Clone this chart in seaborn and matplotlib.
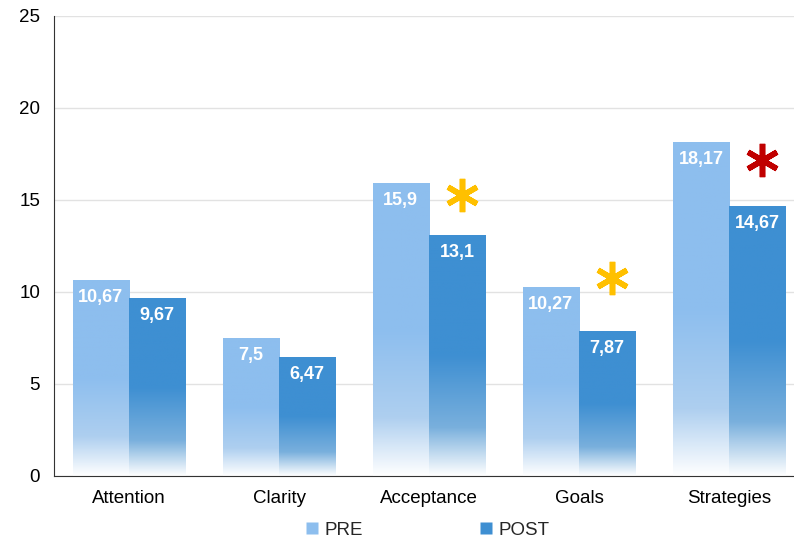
import numpy as np
import pandas as pd
import matplotlib
matplotlib.use("Agg")
import matplotlib.pyplot as plt
from matplotlib.colors import LinearSegmentedColormap
from matplotlib.lines import Line2D
import seaborn as sns

# data
categories = ["Attention", "Clarity", "Acceptance", "Goals", "Strategies"]
pre_values = [10.67, 7.5, 15.9, 10.27, 18.17]
post_values = [9.67, 6.47, 13.1, 7.87, 14.67]
pre_labels = ["10,67", "7,5", "15,9", "10,27", "18,17"]
post_labels = ["9,67", "6,47", "13,1", "7,87", "14,67"]
star_categories = ["Acceptance", "Goals", "Strategies"]
star_heights = [15.25, 10.75, 17.2]
star_colors = ["#FFC000", "#FFC000", "#C00000"]

pre_color = "#8DBEEE"
post_color = "#3E8FD2"

df = pd.DataFrame({
    "category": categories * 2,
    "value": pre_values + post_values,
    "group": ["PRE"] * len(categories) + ["POST"] * len(categories),
})

sns.set_style("white")
plt.rcParams['font.family'] = ['Liberation Sans', 'DejaVu Sans']

fig = plt.figure(figsize=(7.94, 5.41), dpi=100)
ax = fig.add_axes([54 / 794, 65 / 541, 750 / 794, 460 / 541])

sns.barplot(data=df, x="category", y="value", hue="group",
            palette={"PRE": pre_color, "POST": post_color},
            width=0.75, gap=0, ax=ax, legend=False, saturation=1)

# replace flat fills with a vertical fade to white at the base
for container, col in zip(ax.containers, [pre_color, post_color]):
    cmap = LinearSegmentedColormap.from_list(
        "fade", [(0.0, "#FFFFFF"), (0.2, sns.light_palette(col, 4)[2]),
                 (0.5, col), (1.0, col)])
    for bar in container:
        x0, y0 = bar.get_x(), bar.get_y()
        w, h = bar.get_width(), bar.get_height()
        grad = np.linspace(0, 1, 256).reshape(-1, 1)
        im = ax.imshow(grad, cmap=cmap, origin="lower", aspect="auto",
                       extent=[x0, x0 + w, y0, y0 + h], zorder=2)
        im.set_clip_path(bar)
        bar.set_facecolor("none")
        bar.set_edgecolor("none")

# value labels
for container, labels in zip(ax.containers, [pre_labels, post_labels]):
    for bar, lab in zip(container, labels):
        ax.text(bar.get_x() + bar.get_width() / 2, bar.get_height() - 0.95, lab,
                ha="center", va="center", color="white", fontsize=13,
                fontweight="bold", zorder=4)

# significance asterisks above POST bars
post_bars = ax.containers[1]
for cat, yv, c in zip(star_categories, star_heights, star_colors):
    i = categories.index(cat)
    bar = post_bars[i]
    ax.plot(bar.get_x() + bar.get_width() / 2 + 0.03, yv, marker=(6, 2, 0),
            markersize=24, markeredgewidth=4.0, color=c, zorder=4,
            clip_on=False)

ax.set_ylim(0, 25)
ax.set_xlim(-0.5, 4.5)
ax.set_yticks([0, 5, 10, 15, 20, 25])
ax.yaxis.grid(True, color="#E2E2E2", linewidth=1)
ax.set_axisbelow(True)
ax.set_xlabel("")
ax.set_ylabel("")
ax.tick_params(axis="both", length=0, labelsize=13.5, colors="black")
ax.tick_params(axis="y", pad=10)
ax.tick_params(axis="x", pad=10)
for s in ["top", "right"]:
    ax.spines[s].set_visible(False)
ax.spines["left"].set_color("#333333")
ax.spines["bottom"].set_color("#333333")

handles = [Line2D([], [], marker="s", linestyle="", markersize=8,
                  markerfacecolor=pre_color, markeredgecolor="none", label="PRE"),
           Line2D([], [], marker="s", linestyle="", markersize=8,
                  markerfacecolor=post_color, markeredgecolor="none", label="POST")]
fig.legend(handles=handles, loc="center", bbox_to_anchor=(426 / 794, 1 - 530 / 541),
           ncol=2, frameon=False, fontsize=13.5, columnspacing=6.1,
           handletextpad=0.15, handlelength=1.0)

fig.savefig("out.png", dpi=100)
